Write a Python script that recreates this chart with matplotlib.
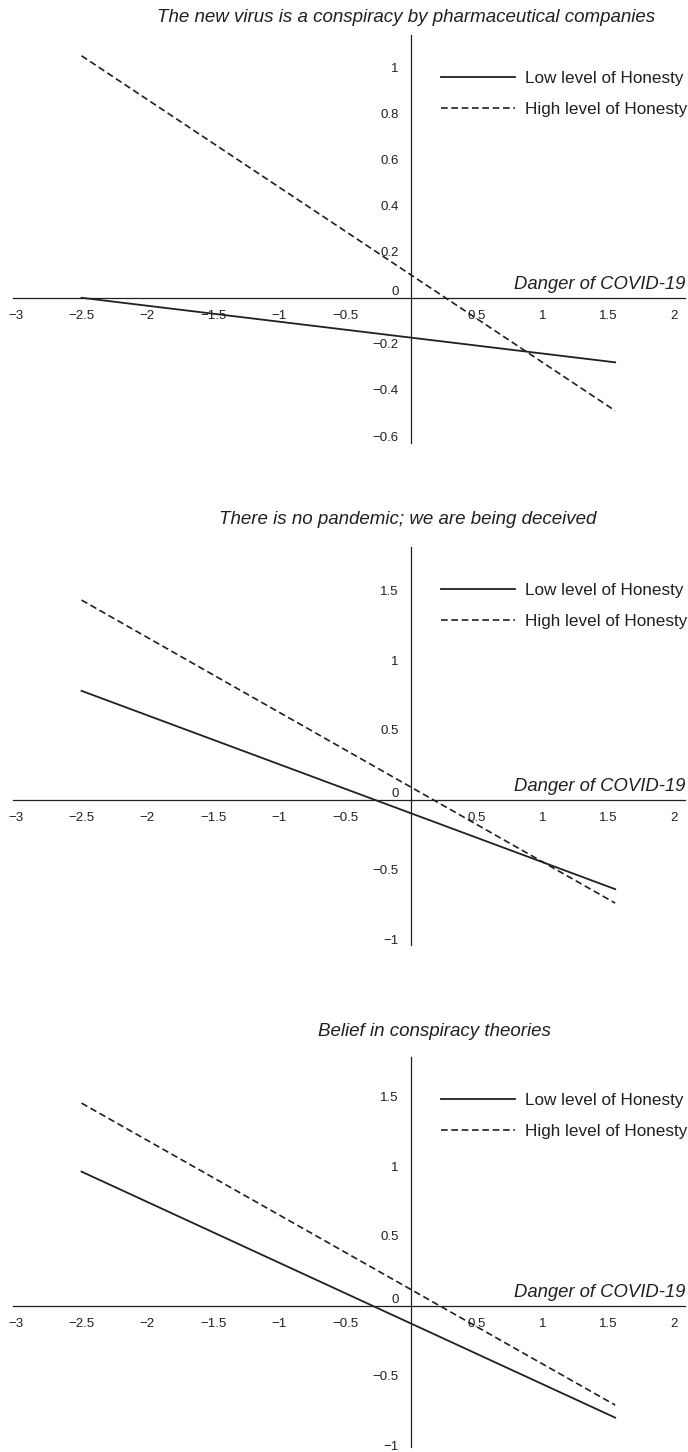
import numpy as np
import matplotlib
matplotlib.use("Agg")
import matplotlib.pyplot as plt
from matplotlib import font_manager

# data
x_ends = [-2.5, 1.55]

titles = ["The new virus is a conspiracy by pharmaceutical companies",
          "There is no pandemic; we are being deceived",
          "Belief in conspiracy theories"]
low_honesty = [[0.0, -0.28], [0.78, -0.64], [0.96, -0.80]]
high_honesty = [[1.05, -0.49], [1.43, -0.74], [1.45, -0.71]]

x_ticks = [-3, -2.5, -2, -1.5, -1, -0.5, 0.5, 1, 1.5, 2]
y_ticks = [[-0.6, -0.4, -0.2, 0, 0.2, 0.4, 0.6, 0.8, 1],
           [-1, -0.5, 0, 0.5, 1, 1.5],
           [-1, -0.5, 0, 0.5, 1, 1.5]]
y_limits = [(-0.63, 1.14), (-1.04, 1.81), (-1.01, 1.78)]

W, H = 688, 1452
INK = "#231f20"

names = {f.name for f in font_manager.fontManager.ttflist}
tick_font = "Liberation Sans Narrow" if "Liberation Sans Narrow" in names else "Liberation Sans"
plt.rcParams["font.family"] = "Liberation Sans"


def fmt(v):
    s = ("%g" % v)
    return s.replace("-", "\u2212")


# panel boxes in pixels: top, bottom, title x, title y
panels = [(35, 443, 406, 18), (547, 945, 408, 519), (1057, 1447, 434, 1031)]

fig = plt.figure(figsize=(W / 100, H / 100), dpi=100)

for i, (top, bot, tx, ty) in enumerate(panels):
    ax = fig.add_axes([13 / W, 1 - bot / H, 672 / W, (bot - top) / H])
    ax.set_xlim(-3.02, 2.08)
    ax.set_ylim(*y_limits[i])
    ax.patch.set_visible(False)

    ax.plot(x_ends, low_honesty[i], color=INK, lw=1.3, ls="-",
            label="Low level of Honesty")
    ax.plot(x_ends, high_honesty[i], color=INK, lw=1.2, ls=(0, (4, 2.2)),
            label="High level of Honesty")

    for side in ["top", "right"]:
        ax.spines[side].set_visible(False)
    ax.spines["left"].set_position(("data", 0))
    ax.spines["bottom"].set_position(("data", 0))
    for side in ["left", "bottom"]:
        ax.spines[side].set_color(INK)
        ax.spines[side].set_linewidth(0.9)

    ax.set_xticks(x_ticks)
    ax.set_xticklabels([fmt(v) for v in x_ticks], fontfamily=tick_font,
                       fontsize=9.5, color=INK)
    ax.set_yticks(y_ticks[i])
    ax.set_yticklabels([fmt(v) for v in y_ticks[i]], fontfamily=tick_font,
                       fontsize=9.5, color=INK)
    ax.tick_params(axis="both", length=0)
    ax.tick_params(axis="x", pad=9)
    ax.tick_params(axis="y", pad=9)
    for lab, v in zip(ax.get_yticklabels(), y_ticks[i]):
        if v == 0:
            lab.set_va("bottom")

    ax.text(2.08, 0.012 * (y_limits[i][1] - y_limits[i][0]), "Danger of COVID-19",
            ha="right", va="bottom", fontsize=13.3, style="italic", color=INK)

    fig.text(tx / W, 1 - ty / H, titles[i], ha="center", va="center",
             fontsize=13.5, style="italic", color=INK)

    leg = ax.legend(loc="upper right", bbox_to_anchor=(0.999, 1 - (top + 36) / H),
                    bbox_transform=fig.transFigure, frameon=False, fontsize=12.3,
                    handlelength=4.3, handletextpad=0.6, borderpad=0,
                    borderaxespad=0, labelspacing=0.93)
    for t in leg.get_texts():
        t.set_color(INK)

fig.savefig("out.png", dpi=100)
